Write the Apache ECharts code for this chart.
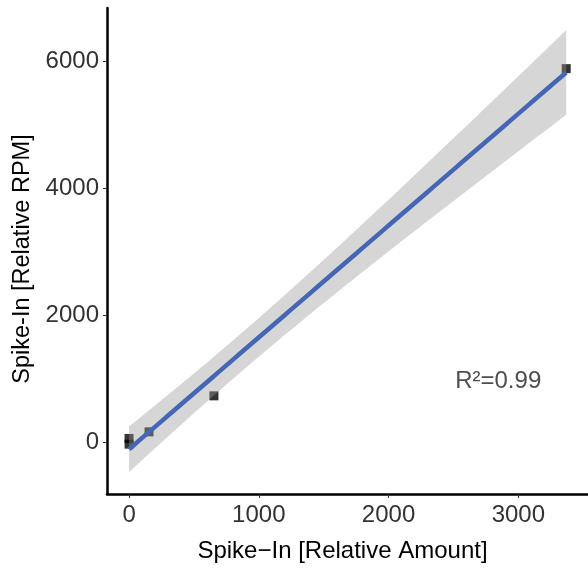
<!DOCTYPE html>
<html>
<head>
<meta charset="utf-8">
<script src="https://cdn.jsdelivr.net/npm/echarts@6/dist/echarts.min.js"></script>
<style>
  html, body { margin: 0; padding: 0; background: #fff; }
  #chart { width: 588px; height: 574px; }
</style>
</head>
<body>
<div id="chart"></div>
<script>
// Spike-in calibration: measured RPM against added relative amount
const spikeAmount = [0, 0, 154, 654, 3369];
const spikeRpm = [-25, 65, 169, 736, 5890];
const xTicks = [0, 1000, 2000, 3000];
const yTicks = [0, 2000, 4000, 6000];

// Ordinary least squares fit with a 95% confidence band
const n = spikeAmount.length;
const mx = spikeAmount.reduce((a, b) => a + b, 0) / n;
const my = spikeRpm.reduce((a, b) => a + b, 0) / n;
let sxx = 0, sxy = 0, sst = 0;
for (let i = 0; i < n; i++) {
  sxx += (spikeAmount[i] - mx) ** 2;
  sxy += (spikeAmount[i] - mx) * (spikeRpm[i] - my);
  sst += (spikeRpm[i] - my) ** 2;
}
const slope = sxy / sxx;
const intercept = my - slope * mx;
let sse = 0;
for (let i = 0; i < n; i++) {
  sse += (spikeRpm[i] - (intercept + slope * spikeAmount[i])) ** 2;
}
const r2 = 1 - sse / sst;
const s = Math.sqrt(sse / (n - 2));
const T975 = { 1: 12.706, 2: 4.303, 3: 3.182, 4: 2.776, 5: 2.571, 6: 2.447 }[n - 2] || 2.0;

const xLo = Math.min(...spikeAmount), xHi = Math.max(...spikeAmount);
const fitX = [];
for (let k = 0; k < 80; k++) fitX.push(xLo + (xHi - xLo) * k / 79);
const fitY = fitX.map(x => intercept + slope * x);
const halfW = fitX.map(x => T975 * s * Math.sqrt(1 / n + (x - mx) ** 2 / sxx));
const bandUpper = fitY.map((y, k) => y + halfW[k]);
const bandLower = fitY.map((y, k) => y - halfW[k]);

const FONT = "'Liberation Sans', Arial, Helvetica, sans-serif";
const plain = v => String(v);

const chart = echarts.init(document.getElementById('chart'), null, { renderer: 'canvas' });
chart.setOption({
  animation: false,
  backgroundColor: '#ffffff',
  grid: { left: 107, right: 0, top: 8, bottom: 80 },
  xAxis: {
    type: 'value',
    min: -170, max: 3537,
    name: 'Spike\u2212In [Relative Amount]',
    nameLocation: 'middle',
    nameGap: 45,
    nameTextStyle: { color: '#000', fontSize: 24, fontFamily: FONT, padding: [0, 10, 0, 0] },
    splitLine: { show: false },
    axisLine: { show: true, onZero: false, lineStyle: { color: '#000', width: 2.5 } },
    axisTick: { show: true, length: 4, customValues: xTicks, lineStyle: { color: '#333', width: 1 } },
    axisLabel: { customValues: xTicks, formatter: plain, margin: 9, color: '#333', fontSize: 24, fontFamily: FONT }
  },
  yAxis: {
    type: 'value',
    min: -810, max: 6845,
    name: 'Spike-In [Relative RPM]',
    nameLocation: 'middle',
    nameGap: 66,
    nameTextStyle: { color: '#000', fontSize: 23.5, fontFamily: FONT, padding: [0, 16, 0, 0] },
    splitLine: { show: false },
    axisLine: { show: true, onZero: false, lineStyle: { color: '#000', width: 2.5 } },
    axisTick: { show: true, length: 4, customValues: yTicks, lineStyle: { color: '#333', width: 1 } },
    axisLabel: { customValues: yTicks, formatter: plain, margin: 8, color: '#333', fontSize: 24, fontFamily: FONT }
  },
  series: [
    {
      type: 'scatter',
      z: 1,
      symbol: 'rect',
      symbolSize: 9,
      itemStyle: { color: '#000' },
      data: spikeAmount.map((x, i) => [x, spikeRpm[i]])
    },
    {
      type: 'custom',
      z: 2,
      silent: true,
      data: [[fitX[0], fitY[0]]],
      renderItem: (params, api) => {
        const pts = [];
        for (let k = 0; k < fitX.length; k++) pts.push(api.coord([fitX[k], bandUpper[k]]));
        for (let k = fitX.length - 1; k >= 0; k--) pts.push(api.coord([fitX[k], bandLower[k]]));
        return { type: 'polygon', shape: { points: pts }, style: { fill: 'rgba(153,153,153,0.4)' } };
      }
    },
    {
      type: 'line',
      z: 3,
      symbol: 'none',
      lineStyle: { color: '#4565B5', width: 4.5 },
      data: fitX.map((x, k) => [x, fitY[k]])
    },
    {
      type: 'scatter',
      z: 4,
      symbolSize: 0,
      silent: true,
      label: {
        show: true,
        position: 'inside',
        formatter: 'R\u00B2=' + r2.toFixed(2),
        color: '#222',
        fontSize: 24,
        fontFamily: FONT
      },
      data: [[2845, 960]]
    }
  ]
});
</script>
</body>
</html>
